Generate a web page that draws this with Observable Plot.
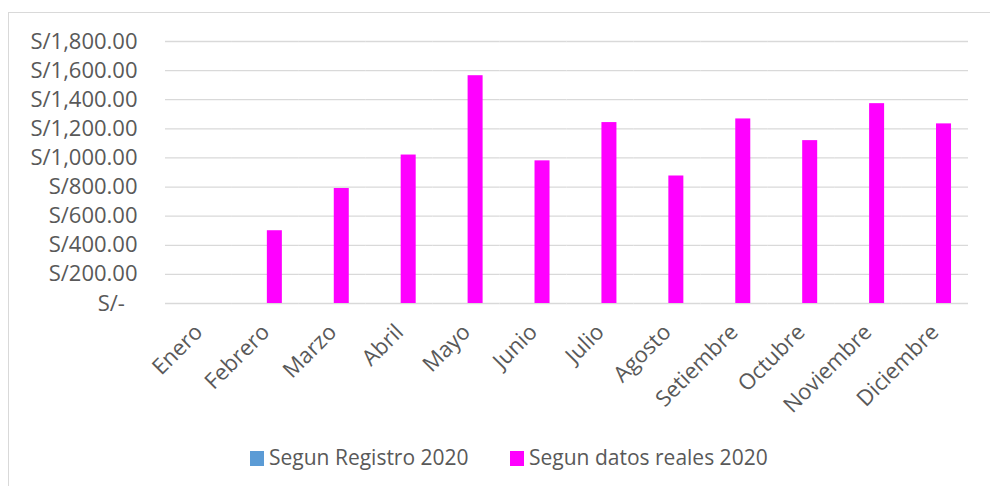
<!DOCTYPE html>
<html>
<head>
<meta charset="utf-8">
<script src="https://cdn.jsdelivr.net/npm/d3@7"></script>
<script src="https://cdn.jsdelivr.net/npm/@observablehq/plot@0.6"></script>
<style>
  html, body { margin: 0; padding: 0; background: #fff; overflow: hidden; }
  body { width: 990px; height: 486px; position: relative; font-family: "Open Sans", sans-serif; }
  #frame { position: absolute; left: 8px; top: 12px; width: 1000px; height: 520px; border: 1px solid #d9d9d9; box-sizing: border-box; }
  #chart { position: absolute; left: 0; top: 0; }
  #legend { position: absolute; left: 0; top: 442px; width: 990px; font-size: 21px; color: #595959; }
  .item { position: absolute; top: 0; white-space: nowrap; line-height: 30px; }
  .sw { display: inline-block; width: 14px; height: 15px; margin-right: 5px; vertical-align: -1px; }
</style>
</head>
<body>
<div id="frame"></div>
<div id="chart"></div>
<div id="legend"></div>
<script>
const months = ["Enero", "Febrero", "Marzo", "Abril", "Mayo", "Junio", "Julio", "Agosto", "Setiembre", "Octubre", "Noviembre", "Diciembre"];
const seriesNames = ["Segun Registro 2020", "Segun datos reales 2020"];
const registro = [0, 0, 0, 0, 0, 0, 0, 0, 0, 0, 0, 0];
const reales = [0, 500, 790, 1020, 1565, 980, 1243, 876, 1268, 1119, 1373, 1234];
const seriesColors = ["#5B9BD5", "#FF00FF"];
const yTicks = [0, 200, 400, 600, 800, 1000, 1200, 1400, 1600, 1800];

const data = [];
months.forEach((m, i) => {
  data.push({month: m, series: seriesNames[0], value: registro[i]});
  data.push({month: m, series: seriesNames[1], value: reales[i]});
});

const fmt = d3.format(",.2f");
const yFormat = d => d === 0 ? "S/-\u2007" : "S/" + fmt(d);

const chart = Plot.plot({
  width: 990,
  height: 430,
  marginTop: 41,
  marginBottom: 127,
  marginLeft: 165,
  marginRight: 22,
  style: {fontFamily: "Open Sans, sans-serif", color: "#595959", background: "transparent"},
  fx: {domain: months, paddingInner: 0, paddingOuter: 0, round: false, label: null, axis: null},
  x: {domain: seriesNames, paddingInner: 0, paddingOuter: 1.23, align: 0.54, round: false, axis: null},
  y: {domain: [0, 1800], label: null},
  color: {domain: seriesNames, range: seriesColors},
  marks: [
    Plot.gridY(yTicks, {stroke: "#d9d9d9", strokeOpacity: 1, strokeWidth: 1.3}),
    Plot.barY(data, {fx: "month", x: "series", y: "value", fill: "series"}),
    Plot.axisY(yTicks, {tickSize: 0, tickPadding: 28, tickFormat: yFormat, fontSize: 22, fill: "#595959", label: null}),
    Plot.axisFx({anchor: "bottom", tickSize: 0, tickPadding: 25, tickRotate: -45, fontSize: 22, fill: "#595959", label: null, dx: 0})
  ]
});
document.getElementById("chart").appendChild(chart);

const legend = document.getElementById("legend");
const legendX = [250, 510];
seriesNames.forEach((name, i) => {
  const it = document.createElement("div");
  it.className = "item";
  it.style.left = legendX[i] + "px";
  const sw = document.createElement("span");
  sw.className = "sw";
  sw.style.background = seriesColors[i];
  it.appendChild(sw);
  it.appendChild(document.createTextNode(name));
  legend.appendChild(it);
});
</script>
</body>
</html>
